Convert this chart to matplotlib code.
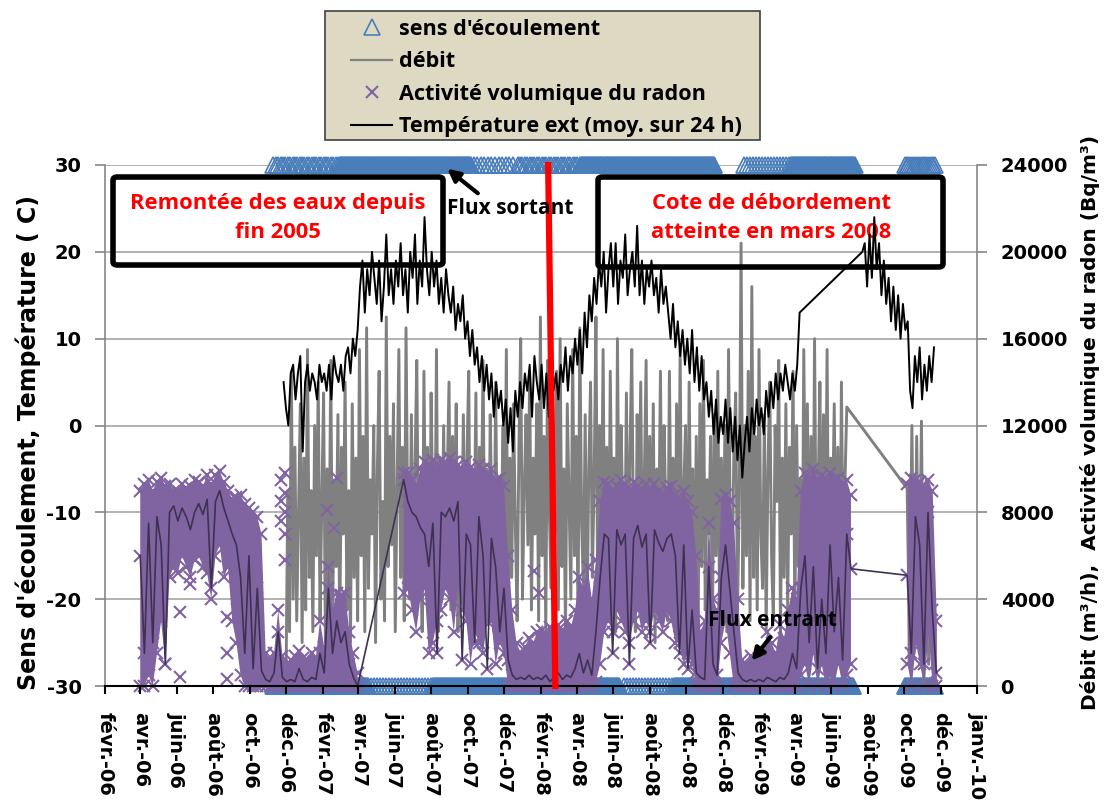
import numpy as np
import pandas as pd
import matplotlib
matplotlib.use("Agg")
import matplotlib.pyplot as plt
from matplotlib.lines import Line2D
from matplotlib.patches import FancyBboxPatch, Rectangle

plt.rcParams['font.family'] = ['DejaVu Sans']
plt.rcParams['font.weight'] = 'bold'
plt.rcParams['axes.unicode_minus'] = False

# ---------------- data ----------------
# outside temperature, 24 h mean (deg C), every 4 days, then a gap, then autumn 2009
temp_start_1 = "2006-11-27"
temp_1 = [5, 2, 0, 6, 7, 3, 6, 8, -3,
          5, 7, 4, 6, 5, 3, 7, 5,
          6, 4, 7, 3, 8, 6, 5,
          7, 4, 8, 9, 6, 10, 8, 11,
          16, 19, 13, 18, 15, 20, 17,
          14, 19, 12, 16, 22, 15, 18, 14,
          19, 16, 21, 15, 18, 13, 20,
          17, 22, 14, 19, 16, 24, 18, 15,
          20, 16, 19, 14, 17, 13, 18, 15,
          13, 16, 11, 14, 12, 15, 10,
          12, 8, 11, 7, 9, 5, 8, 4,
          7, 3, 6, 1, 5, 2, 4, 0,
          3, -2, 2, -3, 4, 1, 5,
          2, 6, 4, 7, 1, 8, 5, 3,
          7, 2, 6, 1, 8, 4, 6,
          3, 7, 5, 9, 4, 8, 6, 10,
          7, 11, 6, 13, 9, 15, 12, 17,
          14, 19, 16, 20, 13, 18, 21,
          16, 21, 14, 19, 17, 22, 15, 18,
          20, 16, 23, 15, 19, 14, 18, 16,
          19, 15, 17, 13, 18, 14, 16,
          13, 10, 14, 9, 12, 8, 11, 7,
          10, 6, 11, 5, 9, 4, 8, 3,
          5, 1, 4, -1, 3, -2, 1,
          -1, 3, -2, 2, -3, 1, -4, 0,
          -6, -2, 1, -3, 2, -1, 3, 0,
          2, -1, 4, 1, 5, 2, 6,
          3, 6, 4, 7, 5, 3, 6,
          4, 7, 13]
temp_start_2 = "2009-07-23"
temp_2 = [20, 21, 16, 22, 17, 24, 18, 21, 15, 19, 14, 17, 12, 16, 11, 15,
          10, 14, 11, 12, 4, 2, 8, 5, 9, 3, 7, 4, 8, 5, 9]

# flow rate (m3/h), every 3 days (one row per month), then autumn 2009 every 4 days
debit_start_1 = "2006-12-01"
debit_1 = [0, 9000, 2500, 14500, 4000, 11000, 3000, 8000, 13000, 2000,
           10500, 3500, 15500, 5000, 9000, 2500, 12000, 6000, 14000, 3000,
           8500, 13500, 2000, 10000, 4500, 15000, 3000, 9500, 5500, 12500,
           2500, 11000, 7000, 14000, 3500, 9000, 2000, 13000, 5000, 10500,
           3000, 15500, 6000, 11500, 2500, 16500, 4500, 9500, 7000, 12000,
           2000, 10000, 14500, 4000, 8500, 3000, 17000, 5500, 11500, 6500,
           13000, 2500, 9000, 15500, 5000, 11000, 3000, 16500, 7000, 4000,
           12500, 3500, 10000, 15000, 5500, 8500, 2500, 14500, 6000, 11000,
           3000, 13500, 7500, 4500, 15500, 2500, 10500, 6000, 12000, 5000,
           9500, 14000, 3500, 11500, 6500, 13000, 2500, 9000, 5000, 12500,
           4000, 10500, 14500, 3000, 9000, 6500, 13500, 2500, 11000, 7500,
           15000, 4500, 10000, 3000, 12500, 7000, 2500, 14000, 5500, 9500,
           3500, 12000, 6000, 15500, 2000, 10500, 5000, 13000, 7500, 3000,
           11000, 16000, 4000, 9000, 12500, 6500, 14500, 3500, 10500, 7000,
           13000, 3000, 17000, 6000, 11500, 2500, 15000, 8000, 4500, 12000,
           7000, 14500, 3500, 16000, 5500, 10000, 2500, 13000, 8500, 4000,
           15500, 6000, 11500, 3000, 16500, 7500, 4500, 12500, 2500, 10000,
           14000, 5000, 9500, 17000, 3500, 12000, 6500, 15500, 4000, 11000,
           3000, 14500, 7000, 10500, 2500, 16000, 5500, 12000, 8000, 4500,
           13500, 3500, 11000, 15500, 6000, 2500, 12500, 7500, 14000, 4000,
           9500, 15000, 3000, 11500, 5500, 13000, 2000, 10000, 6500, 14500,
           4500, 12000, 8000, 3000, 14500, 6000, 10500, 2500, 13000, 5000,
           15500, 3500, 9000, 12000, 2500, 14000, 6500, 10000, 4000, 11500,
           2000, 13000, 5500, 15000, 3500, 9500, 7000, 11500, 2500, 12500,
           6000, 14500, 3000, 10500, 5000, 12000, 2500, 15500, 7000, 4500,
           11000, 13500, 3500, 8500, 20400, 4500, 12000, 6000, 14500, 3000,
           18400, 5000, 11500, 3500, 15500, 7000, 4500, 12500, 2500, 10000,
           14000, 6000, 3000, 12000, 8500, 15000, 2500, 10500, 5000, 13000,
           3500, 11000, 7000, 14500, 3000, 12000, 5500, 9500, 2500, 15500,
           6500, 13000, 4000, 11500, 2500, 16000, 5000, 9000, 14000, 3500,
           12500, 6000, 15500, 3000, 10500, 7500, 13000, 4500, 11000, 2500,
           14000, 5000, 9500, 12850]
debit_start_2 = "2009-10-06"
debit_2 = [9100, 2000, 12000, 1500, 11500, 3000, 12200, 0, 9500, 1000, 8000, 500]

# radon activity (Bq/m3), weekly: bottom of the dense band, mean, top of the band
radon_start_1 = "2006-04-01"
nan = np.nan
radon_lo_1 = [0, 0, 500, 0, 1500, 3000, 1000, 5000, 5500, 5200,
              6000, 5500, 5000, 5800, 6000, 5500, 5200, 4000, 6000, 6500,
              5000, 5500, 3000, 2000, 500, 0, 0, 0, 0, 0,
              0, 0, 0, 0, 0, 0, 0, 0, 0, 0,
              0, 0, 0, 0, 0, 0, 0, 200, 0, 0,
              0, 0, 0,
              nan, nan, nan, nan, nan, nan, nan, nan, nan, nan,
              4300, 4500, 3500, 2500, 4000, 4500, 1500,
              2000, 3000, 3500, 4500, 4000, 2500, 4500, 3500, 3000, 1000,
              2500, 2000, 1500, 3000, 3000, 1000, 2000, 1500, 0, 0,
              0, 0, 0, 0, 0, 0, 0, 0, 0, 0,
              0, 0, 0, 0, 0, 0, 0, 0, 0, 200,
              1000, 2500, 3000, 2500, 3500, 3000, 2500, 2000, 3000, 3500,
              2500, 3000, 2500, 3500, 3000, 2500, 3500, 3000, 2000, 2000,
              1000, 1500, 1000, 0, 0, 0, 0, 0, 0, 2000,
              3000, 1500, 0, 0, 0, 0, 0, 0, 0, 0,
              0, 0, 0, 0, 0, 0, 0, 0, 500, 1000,
              0, 1500, 0, 1000, 0, 500, 0, 1000, 0, 500, 1000]
radon_mean_1 = [6000, 1500, 7500, 2000, 7800, 6500, 1000, 8000, 8300, 7600,
                8200, 7800, 7200, 8000, 8400, 7900, 8600, 4500, 8500, 9000,
                8200, 7600, 7000, 6500, 5000, 1500, 6000, 800, 4500, 700,
                300, 200, 600, 2500, 400, 200, 300, 200, 800, 300,
                200, 400, 300, 1500, 600, 4500, 1500, 3000, 2000, 2500,
                1000, 400, 0,
                nan, nan, nan, nan, nan, nan, nan, nan, nan, nan,
                9500, 8500, 8000, 7800, 7300, 7000, 5500,
                7500, 1500, 8000, 7800, 8200, 7600, 8500, 1200, 7000, 6500,
                2000, 7800, 6000, 800, 6800, 5500, 2500, 4500, 1200, 500,
                300, 400, 300, 500, 300, 400, 300, 500, 200, 400,
                600, 300, 500, 400, 800, 1500, 600, 1200, 500, 2500,
                5000, 7000, 6800, 1500, 7200, 6500, 7000, 1000, 6800, 7400,
                6400, 7000, 2000, 7200, 6600, 6200, 6800, 7000, 6000, 1500,
                6500, 800, 3500, 600, 400, 300, 5500, 1000, 500, 5000,
                6500, 4500, 2500, 600, 300, 200, 300, 200, 300, 200,
                400, 300, 200, 400, 300, 600, 1500, 800, 4500, 6000,
                2000, 5500, 800, 4000, 1500, 6500, 2500, 5000, 1200, 7000, 5400]
radon_hi_1 = [9000, 9300, 9500, 9000, 9400, 9600, 9200, 9300, 9000, 9000,
              9300, 9100, 9200, 9500, 9400, 9200, 9700, 9300, 9700, 9900,
              9400, 9000, 8600, 8700, 8800, 8400, 8200, 8000, 7800, 7000,
              1500, 1200, 1500, 3500, 1400, 1000, 1200, 1400, 1600, 1300,
              1200, 1500, 1300, 3000, 1800, 5500, 3500, 4300, 4200, 4300,
              2500, 1500, 600,
              nan, nan, nan, nan, nan, nan, nan, nan, nan, nan,
              9800, 9800, 9500, 9200, 10000, 10300, 10200,
              10400, 10000, 10400, 10300, 10500, 10300, 10200, 10000, 10300, 10100,
              9800, 10200, 10000, 9700, 10000, 9500, 9600, 9200, 6000, 3500,
              2000, 1500, 1800, 2200, 2000, 2500, 2600, 2400, 2700, 2500,
              2800, 2600, 3000, 2700, 3500, 5000, 4500, 5500, 4000, 5800,
              8500, 9400, 9300, 9000, 9200, 9500, 9300, 9000, 9400, 9200,
              9000, 9300, 9100, 9300, 9000, 8800, 9100, 9200, 8800, 8600,
              9000, 8500, 8000, 6000, 2500, 3000, 7500, 4000, 3500, 8600,
              8800, 8500, 7500, 4000, 1200, 1000, 1400, 1100, 1300, 1500,
              2500, 2000, 1500, 2800, 2200, 3500, 4500, 4000, 9000, 9800,
              9600, 10000, 9500, 9700, 9400, 9800, 9500, 9600, 9300, 9500, 8800]
radon_start_2 = "2009-10-06"
radon_lo_2 = [1000, 0, 2000, 1000, 0, 2500, 0, 0]
radon_mean_2 = [5100, 1500, 7800, 6500, 1000, 8000, 3500, 600]
radon_hi_2 = [9300, 9600, 9500, 9400, 9200, 9500, 9000, 3000]
# isolated radon readings
radon_extra_dates = ["2006-06-07", "2006-06-07", "2006-06-24", "2006-08-25", "2006-08-25",
                     "2006-08-25", "2006-09-10", "2006-11-22", "2006-11-22", "2006-11-22",
                     "2006-11-30", "2006-11-30", "2006-11-30", "2006-11-30", "2006-11-30",
                     "2007-02-08", "2007-02-19", "2007-02-25", "2008-01-20", "2008-01-28"]
radon_extra_vals = [3400, 400, 4700, 3200, 1500, 300, 4000, 9500, 8500, 7600,
                    9800, 8900, 8000, 7000, 5800, 8100, 7300, 9600, 5300, 4300]

# flow direction (+30 = outgoing, -30 = incoming): start, end, value, sampling (days)
sens_periods = [("2006-11-10", "2007-03-02", 30, 4),
                ("2007-03-02", "2007-10-06", 30, 1),
                ("2007-10-11", "2007-12-18", 30, 6),
                ("2007-12-24", "2008-04-08", 30, 4),
                ("2008-04-08", "2008-11-17", 30, 1),
                ("2009-01-06", "2009-03-26", 30, 5),
                ("2009-03-26", "2009-07-10", 30, 1),
                ("2009-10-02", "2009-11-22", 30, 3),
                ("2006-11-10", "2007-04-17", -30, 1),
                ("2007-04-17", "2007-08-05", -30, 5),
                ("2007-08-05", "2008-06-11", -30, 1),
                ("2008-06-19", "2008-09-11", -30, 5),
                ("2008-09-11", "2009-07-08", -30, 1),
                ("2009-10-02", "2009-11-22", -30, 1)]

month_fr = {1: 'janv.', 2: 'févr.', 3: 'mars', 4: 'avr.', 5: 'mai', 6: 'juin',
            7: 'juil.', 8: 'août', 9: 'sept.', 10: 'oct.', 11: 'nov.', 12: 'déc.'}

# ---------------- build series ----------------
def series(start, values, step):
    return pd.date_range(start, periods=len(values), freq=step)

t_dates = series(temp_start_1, temp_1, '4D').append(series(temp_start_2, temp_2, '4D'))
t_vals = np.array(temp_1 + temp_2, float)

d_dates = series(debit_start_1, debit_1, '3D').append(series(debit_start_2, debit_2, '4D'))
d_vals = np.array(debit_1 + debit_2, float)

r1 = series(radon_start_1, radon_lo_1, '7D')
r2 = series(radon_start_2, radon_lo_2, '7D')
r_dates = r1.append(r2)
r_lo = np.array(radon_lo_1 + radon_lo_2, float)
r_mean = np.array(radon_mean_1 + radon_mean_2, float)
r_hi = np.array(radon_hi_1 + radon_hi_2, float)

sens_x, sens_y = [], []
for a, b, v, step in sens_periods:
    dd = pd.date_range(a, b, freq=f'{step}D')
    sens_x.extend(dd)
    sens_y.extend([v] * len(dd))
sens_x = pd.DatetimeIndex(sens_x)
sens_y = np.array(sens_y, float)


def left_to_right(v):
    # left axis -30..30 maps onto right axis 0..24000
    return (v + 30) / 60 * 24000


# ---------------- figure ----------------
W, H = 1110, 801
fig = plt.figure(figsize=(W / 100, H / 100), dpi=100)
ax = fig.add_axes([105 / W, 1 - 686 / H, 872 / W, 521 / H])
ax2 = ax.twinx()
ax.set_zorder(ax2.get_zorder() + 1)
ax.patch.set_visible(False)

blue = '#4a7ebb'
purple = '#8064a2'
dark_purple = '#3f3151'
grey = '#808080'

ax2.grid(axis='y', color='#a6a6a6', lw=1.2)
ax2.set_axisbelow(True)

ax2.plot(sens_x, left_to_right(sens_y), ls='none', marker='^', ms=11,
         mfc='none', mec=blue, mew=1.2, clip_on=False, zorder=1)
ax2.plot(d_dates, d_vals, color=grey, lw=2.1, zorder=2)

for seg in (slice(0, len(r1)), slice(len(r1), None)):
    ax2.fill_between(r_dates[seg], r_lo[seg], r_hi[seg], color=purple, lw=0, zorder=3)
for arr in (r_lo, r_hi, r_mean):
    ax2.plot(r_dates, arr, ls='none', marker='x', ms=8, mew=1.5, color=purple,
             clip_on=False, zorder=3)
ax2.plot(pd.to_datetime(radon_extra_dates), radon_extra_vals, ls='none', marker='x',
         ms=8, mew=1.5, color=purple, zorder=3)
ok = ~np.isnan(r_mean)
ax2.plot(r_dates[ok], r_mean[ok], color=dark_purple, lw=1.2, zorder=4)

ax.plot(t_dates, t_vals, color='black', lw=1.4, zorder=5)

# ---------------- axes ----------------
x0, x1 = pd.Timestamp('2006-02-01'), pd.Timestamp('2010-01-31')
ax.set_xlim(x0, x1)
ax.set_ylim(-30, 30)
ax2.set_ylim(0, 24000)
ax.set_yticks(range(-30, 31, 10))
ax2.set_yticks(range(0, 24001, 4000))

tick_dates = list(pd.date_range('2006-02-01', '2009-12-01', freq='2MS')) + [x1]
tick_labels = [f"{month_fr[d.month]}-{d.year % 100:02d}" for d in tick_dates[:-1]] + ['janv.-10']
ax.set_xticks(tick_dates)
ax.set_xticklabels(tick_labels, rotation=270, fontsize=14, fontweight='bold')
ax.tick_params(axis='x', direction='out', length=6, width=1.5, color='black', pad=13)
ax.tick_params(axis='y', direction='out', length=7, width=1.2, color='#868686',
               labelsize=14, pad=10)
ax2.tick_params(axis='y', direction='out', length=7, width=1.2, color='#868686',
                labelsize=14, pad=10)
for lab in ax.get_yticklabels() + ax2.get_yticklabels():
    lab.set_fontweight('bold')

for s in ('top', 'right'):
    ax.spines[s].set_visible(False)
ax.spines['left'].set_color('#868686')
ax.spines['left'].set_linewidth(1.2)
ax.spines['bottom'].set_color('black')
ax.spines['bottom'].set_linewidth(1.5)
for s in ('top', 'left', 'bottom'):
    ax2.spines[s].set_visible(False)
ax2.spines['right'].set_color('#868686')
ax2.spines['right'].set_linewidth(1.2)

fig.text(28 / W, 1 - 443 / H, "Sens d'écoulement, Température ( C)", rotation=90,
         ha='center', va='center', fontsize=17, fontweight='bold')
fig.text(1090 / W, 1 - 422 / H, "Débit (m³/h),  Activité volumique du radon (Bq/m³)",
         rotation=90, ha='center', va='center', fontsize=14.5, fontweight='bold')

# ---------------- annotations ----------------
calib = ['Open Sans', 'DejaVu Sans']
for (bx, by, bw, bh), txt, cx in [((113, 177, 330, 88), "Remontée des eaux depuis\nfin 2005", 278),
                                  ((598, 177, 345, 90), "Cote de débordement\natteinte en mars 2008", 771)]:
    box = FancyBboxPatch((bx / W, 1 - (by + bh) / H), bw / W, bh / H,
                         boxstyle='round,pad=0,rounding_size=0.004',
                         transform=fig.transFigure, facecolor='none',
                         edgecolor='black', lw=4, zorder=4)
    ax.add_patch(box)
    ax.text(cx / W, 1 - 218 / H, txt, transform=fig.transFigure, ha='center',
            va='center', color='red', fontsize=15.8, fontweight='bold',
            family=calib, linespacing=1.55, zorder=4)

ax.plot([pd.Timestamp('2008-02-13'), pd.Timestamp('2008-02-25')], [30, -30],
        color='red', lw=4.5, zorder=8, clip_on=False)

ax.annotate('', xy=(445, H - 167), xytext=(480, H - 195), xycoords='figure pixels',
            textcoords='figure pixels',
            arrowprops=dict(arrowstyle='-|>', color='black', lw=3, mutation_scale=18),
            zorder=8)
ax.text(447 / W, 1 - 208 / H, 'Flux sortant', transform=fig.transFigure, ha='left',
        va='center', fontsize=15, fontweight='bold', family=calib, zorder=8)
ax.annotate('', xy=(750, H - 663), xytext=(772, H - 635), xycoords='figure pixels',
            textcoords='figure pixels',
            arrowprops=dict(arrowstyle='-|>', color='black', lw=3, mutation_scale=18),
            zorder=8)
ax.text(708 / W, 1 - 620 / H, 'Flux entrant', transform=fig.transFigure, ha='left',
        va='center', fontsize=15, fontweight='bold', family=calib, zorder=8)

# ---------------- legend ----------------
fig.patches.append(Rectangle((325 / W, 1 - 140 / H), 435 / W, 129 / H,
                             transform=fig.transFigure, facecolor='#ddd9c3',
                             edgecolor='#404040', lw=1.2, zorder=0))
handles = [Line2D([], [], ls='none', marker='^', ms=11, mfc='none', mec=blue, mew=1.2),
           Line2D([], [], color=grey, lw=1.6),
           Line2D([], [], ls='none', marker='x', ms=8, mew=1.5, color=purple),
           Line2D([], [], color='black', lw=1.5)]
labels = ["sens d'écoulement", 'débit', 'Activité volumique du radon',
          'Température ext (moy. sur 24 h)']
leg = fig.legend(handles, labels, loc='upper left', bbox_to_anchor=(351 / W, 1 - 19 / H),
                 prop={'family': calib, 'weight': 'bold', 'size': 15.6},
                 frameon=False, borderpad=0, handlelength=1.9,
                 handletextpad=0.3, labelspacing=0.53, borderaxespad=0)

fig.savefig('out.png', dpi=100)
